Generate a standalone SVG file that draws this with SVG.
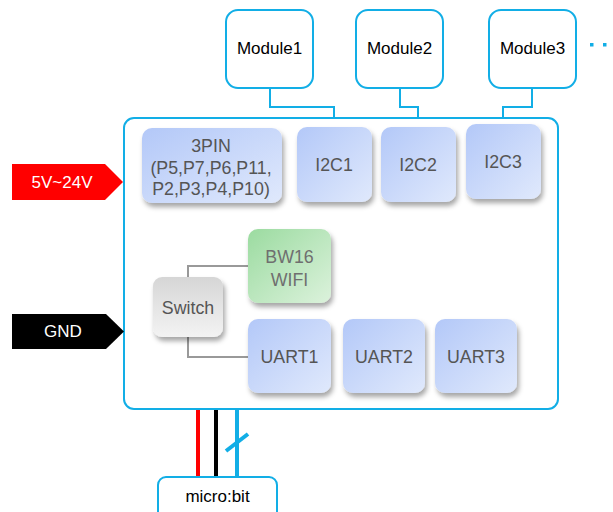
<svg xmlns="http://www.w3.org/2000/svg" width="613" height="512" viewBox="0 0 613 512">
<style>
text{font-family:"Liberation Sans",Arial,sans-serif;font-size:17px;text-anchor:middle;dominant-baseline:central}
.mod{fill:#fff;stroke:#12aee6;stroke-width:2}
.blk{stroke:none;filter:url(#sh)}
.blue{fill:url(#gb)}
.green{fill:url(#gg)}
.gray{fill:url(#gs)}
.t{fill:#555;font-size:17.8px}
.tg{fill:#6f6f6f;font-size:17.8px}
.wire{fill:none;stroke:#12aee6;stroke-width:2}
.sw{fill:none;stroke:#999;stroke-width:2}
</style>
<defs>
<linearGradient id="gb" x1="0" y1="0" x2="1" y2="1"><stop offset="0" stop-color="#b3c8f8"/><stop offset="1" stop-color="#e0e9fc"/></linearGradient>
<linearGradient id="gg" x1="0" y1="0" x2="1" y2="1"><stop offset="0" stop-color="#9bdba0"/><stop offset="1" stop-color="#dcf2dc"/></linearGradient>
<linearGradient id="gs" x1="0" y1="0" x2="0" y2="1"><stop offset="0" stop-color="#d6d6d6"/><stop offset="1" stop-color="#f3f3f3"/></linearGradient>
<filter id="sh" x="-20%" y="-20%" width="150%" height="150%"><feDropShadow dx="2" dy="4" stdDeviation="2.5" flood-color="#000" flood-opacity="0.35"/></filter>
</defs>

<g id="main"><rect x="124" y="118" width="434" height="291" rx="10" fill="#fff" stroke="#12aee6" stroke-width="2"/></g>

<g id="connectors">
<path class="wire" d="M270 88V107H334V118"/>
<path class="wire" d="M400 88V107H418V118"/>
<path class="wire" d="M532 88V107H503V118"/>
<path class="sw" d="M188 277V266H248"/>
<path class="sw" d="M188 337V357H248"/>
<line x1="198" y1="410" x2="198" y2="477" stroke="#ff0000" stroke-width="4"/>
<line x1="216" y1="410" x2="216" y2="477" stroke="#000" stroke-width="4"/>
<line x1="237" y1="410" x2="237" y2="477" stroke="#12aee6" stroke-width="4"/>
<line x1="226" y1="451" x2="248" y2="434" stroke="#12aee6" stroke-width="4"/>
</g>

<g id="module1"><rect class="mod" x="226" y="10" width="87" height="78" rx="12"/><text x="269.5" y="48" fill="#000">Module1</text></g>
<g id="module2"><rect class="mod" x="356" y="10" width="87" height="78" rx="12"/><text x="399.5" y="48" fill="#000">Module2</text></g>
<g id="module3"><rect class="mod" x="489" y="10" width="87" height="78" rx="12"/><text x="532.5" y="48" fill="#000">Module3</text></g>
<g id="more"><rect x="590" y="43" width="3.5" height="3.5" fill="#12aee6"/><rect x="603" y="43" width="3.5" height="3.5" fill="#12aee6"/></g>

<g id="pin3"><rect class="blk blue" x="142" y="128" width="140" height="75" rx="10"/>
<text class="t" x="211" y="146">3PIN</text><text class="t" x="211" y="168">(P5,P7,P6,P11,</text><text class="t" x="211" y="189">P2,P3,P4,P10)</text></g>
<g id="i2c1"><rect class="blk blue" x="297" y="127" width="75" height="75" rx="10"/><text class="t" x="334" y="165">I2C1</text></g>
<g id="i2c2"><rect class="blk blue" x="381" y="127" width="75" height="75" rx="10"/><text class="t" x="418" y="165">I2C2</text></g>
<g id="i2c3"><rect class="blk blue" x="466" y="124" width="75" height="75" rx="10"/><text class="t" x="503" y="162">I2C3</text></g>

<g id="vin"><path d="M12 164H105L123 182L105 200H12Z" fill="#ff0000"/><text x="62" y="182" fill="#fff">5V~24V</text></g>
<g id="gnd"><path d="M12 314H106L124 331.5L106 349H12Z" fill="#000"/><text x="63" y="331.5" fill="#fff">GND</text></g>

<g id="switch"><rect class="blk gray" x="153" y="277" width="70" height="60" rx="9"/><text class="t" x="188" y="308">Switch</text></g>
<g id="bw16"><rect class="blk green" x="248" y="229" width="83" height="74" rx="10"/><text class="tg" x="289.5" y="257">BW16</text><text class="tg" x="289.5" y="280">WIFI</text></g>
<g id="uart1"><rect class="blk blue" x="248" y="319" width="83" height="74" rx="10"/><text class="t" x="289.5" y="357">UART1</text></g>
<g id="uart2"><rect class="blk blue" x="343" y="319" width="82" height="74" rx="10"/><text class="t" x="384" y="357">UART2</text></g>
<g id="uart3"><rect class="blk blue" x="435" y="319" width="82" height="74" rx="10"/><text class="t" x="476" y="357">UART3</text></g>

<g id="microbit"><rect x="158" y="477" width="119" height="45" rx="8" fill="#fff" stroke="#12aee6" stroke-width="2"/><text x="217.5" y="496" fill="#000">micro:bit</text></g>
</svg>
